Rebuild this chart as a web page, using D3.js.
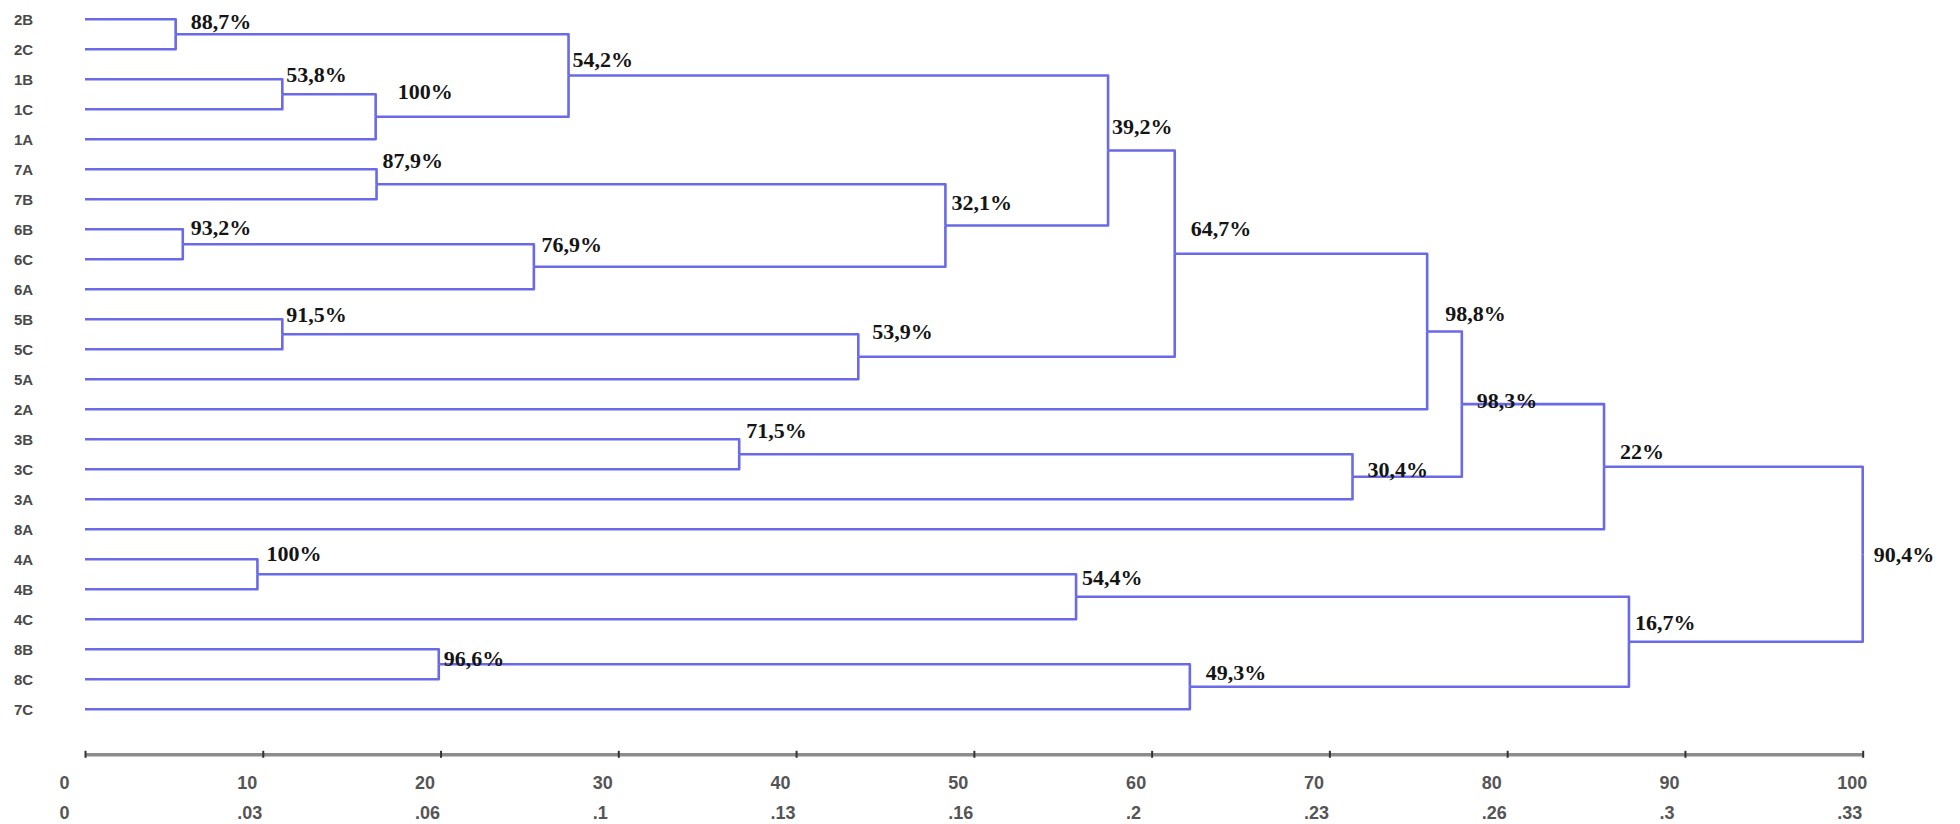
<!DOCTYPE html>
<html>
<head>
<meta charset="utf-8">
<script src="https://cdn.jsdelivr.net/npm/d3@7/dist/d3.min.js"></script>
<style>
  html, body { margin: 0; padding: 0; background: #ffffff; }
  svg { display: block; }
</style>
</head>
<body>
<svg id="chart" width="1960" height="824"></svg>
<script>
// ---------------- data ----------------
const leaves = ["2B","2C","1B","1C","1A","7A","7B","6B","6C","6A","5B","5C","5A","2A","3B","3C","3A","8A","4A","4B","4C","8B","8C","7C"];

// merges: m0 .. m22 (children are leaf names or merge ids)
const mergeA = ["2B","1B","m1","m0","7A","6B","m5","m4","m3","5B","m9","m8","m11","3B","m13","m12","m15","4A","m17","8B","m19","m18","m16"];
const mergeB = ["2C","1C","1A","m2","7B","6C","6A","m6","m7","5C","5A","m10","2A","3C","3A","m14","8A","4B","4C","8C","7C","m20","m21"];
const mergeLevel = [5.1, 11.1, 16.35, 27.2, 16.4, 5.5, 25.25, 48.4, 57.55, 11.1, 43.5, 61.3, 75.5, 36.8, 71.3, 77.45, 85.45, 9.7, 55.75, 19.9, 62.15, 86.85, 100];
const mergeLabel = ["88,7%","53,8%","100%","54,2%","87,9%","93,2%","76,9%","32,1%","39,2%","91,5%","53,9%","64,7%","98,8%","71,5%","30,4%","98,3%","22%","100%","54,4%","96,6%","49,3%","16,7%","90,4%"];

const tickValues = [0, 10, 20, 30, 40, 50, 60, 70, 80, 90, 100];
const tickLabels2 = ["0", ".03", ".06", ".1", ".13", ".16", ".2", ".23", ".26", ".3", ".33"];

// ---------------- layout / style ----------------
// label nudges relative to node (layout only)
const labelNudge = [[15,-5],[4,-12],[22,-18],[4,-9],[6,-16],[8,-9],[7.6,-15],[6,-16],[4,-17],[4,-12],[14,-18],[16,-18],[18,-10],[7,-16],[15,0],[15,3.5],[16,-8],[9,-13],[6,-12],[5,1.5],[16,-7],[6,-12],[11,7.5]];

const lineColor = "#6a6ae8";
const svg = d3.select("#chart");

const x = d3.scaleLinear().domain([0, 100]).range([85, 1862.7]);
const y = d3.scalePoint().domain(leaves).range([19.3, 709.3]);

// build tree
const nodes = {};
leaves.forEach(n => nodes[n] = { name: n, level: 0 });
mergeA.forEach((a, i) => {
  nodes["m" + i] = { name: "m" + i, level: mergeLevel[i], label: mergeLabel[i], idx: i,
                     children: [nodes[a], nodes[mergeB[i]]] };
});
const root = d3.hierarchy(nodes["m" + (mergeA.length - 1)]);
root.eachAfter(d => {
  d.px = x(d.data.level);
  d.py = d.children ? d3.mean(d.children, c => c.py) : y(d.data.name);
});

// links (elbow)
svg.append("g")
  .attr("fill", "none")
  .attr("stroke", lineColor)
  .attr("stroke-width", 2.6)
  .attr("stroke-linejoin", "round")
  .selectAll("path")
  .data(root.descendants().filter(d => d.parent))
  .join("path")
  .attr("d", d => `M${d.px},${d.py}H${d.parent.px}V${d.parent.py}`);

// leaf labels
svg.append("g")
  .selectAll("text")
  .data(root.leaves())
  .join("text")
  .attr("x", 23.5)
  .attr("y", d => d.py)
  .attr("dy", "0.36em")
  .attr("text-anchor", "middle")
  .attr("font-family", "'Liberation Sans Narrow','Arial Narrow','Liberation Sans',Arial,sans-serif")
  .attr("font-stretch", "condensed")
  .attr("font-weight", "bold")
  .attr("font-size", 15)
  .attr("fill", "#4a4a4a")
  .text(d => d.data.name);

// node percentage labels
svg.append("g")
  .selectAll("text")
  .data(root.descendants().filter(d => d.children))
  .join("text")
  .attr("x", d => d.px + labelNudge[d.data.idx][0])
  .attr("y", d => d.py + labelNudge[d.data.idx][1])
  .attr("font-family", "'Liberation Serif','Times New Roman',serif")
  .attr("font-weight", "bold")
  .attr("font-size", 22)
  .attr("fill", "#151515")
  .text(d => d.data.label);

// axis
const axisY = 754.3;
const ax = svg.append("g")
  .attr("transform", `translate(0,${axisY})`)
  .call(d3.axisBottom(x).tickValues(tickValues).tickSize(3).tickSizeOuter(0).tickFormat(d3.format("d")));
ax.select(".domain").attr("stroke", "#8c8c8c").attr("stroke-width", 3.5);
ax.selectAll(".tick line").attr("y1", -3.5).attr("y2", 3.5).attr("stroke", "#333").attr("stroke-width", 2);
ax.selectAll(".tick text")
  .attr("text-anchor", "start")
  .attr("x", -26)
  .attr("y", 35)
  .attr("dy", 0)
  .attr("font-family", "'Liberation Sans Narrow','Arial Narrow','Liberation Sans',Arial,sans-serif")
  .attr("font-stretch", "condensed")
  .attr("font-weight", "bold")
  .attr("font-size", 18)
  .attr("fill", "#555");

const ax2 = svg.append("g")
  .attr("transform", `translate(0,${axisY})`)
  .call(d3.axisBottom(x).tickValues(tickValues).tickSize(0).tickFormat((d, i) => tickLabels2[i]));
ax2.select(".domain").remove();
ax2.selectAll(".tick text")
  .attr("text-anchor", "start")
  .attr("x", -26)
  .attr("y", 65)
  .attr("dy", 0)
  .attr("font-family", "'Liberation Sans Narrow','Arial Narrow','Liberation Sans',Arial,sans-serif")
  .attr("font-stretch", "condensed")
  .attr("font-weight", "bold")
  .attr("font-size", 18)
  .attr("fill", "#555");
</script>
</body>
</html>
